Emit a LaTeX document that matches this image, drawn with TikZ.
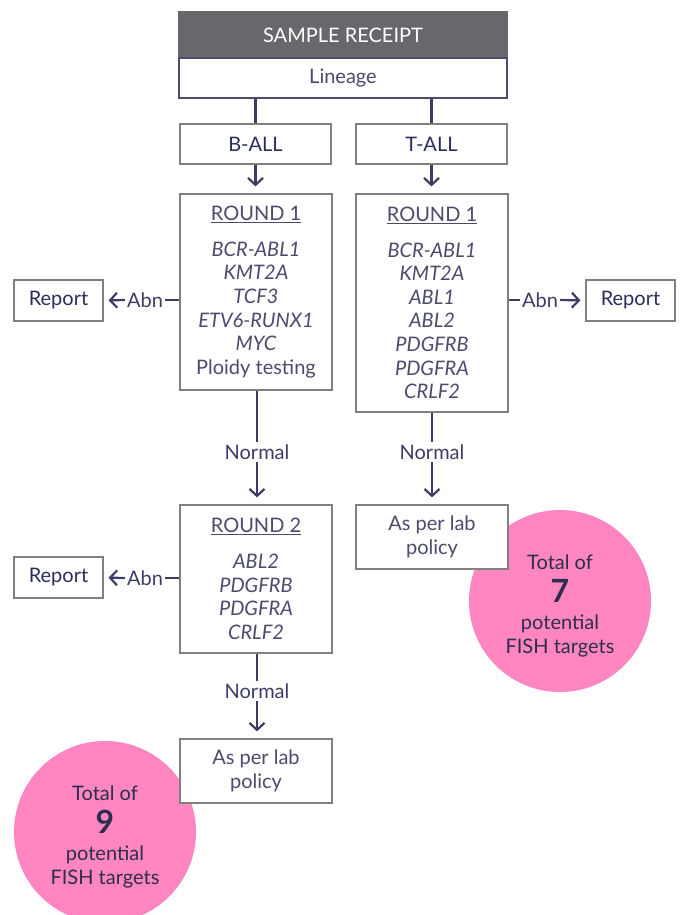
\documentclass[tikz,border=0pt]{standalone}
\usepackage{fontspec}
\setmainfont{Lato}
\usetikzlibrary{arrows.meta}
\definecolor{hdr}{HTML}{67686C}
\definecolor{navy}{HTML}{2B2D5C}
\definecolor{itemc}{HTML}{4B4B6B}
\definecolor{boxc}{HTML}{808080}
\definecolor{conn}{HTML}{3D3C68}
\definecolor{pinkc}{HTML}{FF86C1}
\definecolor{circtext}{HTML}{2D2D4D}
\tikzset{
  box/.style={draw=boxc, line width=1.2pt, fill=white, align=center, text=navy, inner sep=0pt,
    font=\fontsize{20}{23.5}\selectfont},
  lbl/.style={text=conn, inner sep=2pt, font=\fontsize{20}{23}\selectfont},
  conline/.style={draw=conn, line width=2.2pt},
  arr/.style={conline, -{Straight Barb[length=7pt,width=15pt,line width=2.2pt]}, shorten >=7pt},
  circ/.style={circle, fill=pinkc, minimum size=182pt, inner sep=0pt},
  circtxt/.style={align=center, text=circtext, inner sep=0pt, font=\fontsize{20}{24}\selectfont},
}
\newcommand{\itm}[1]{{\itshape #1}}
\begin{document}
\begin{tikzpicture}[x=1pt,y=-1pt]
\useasboundingbox (0,0) rectangle (681,915);
\clip (0,0) rectangle (681,915);
% circles (behind)
\node[circ] (c7) at (560,601) {};
\node[circtxt] (c7t) at ([yshift=-5pt]c7.center) {Total of\\[9pt]{\fontsize{32}{24}\selectfont\bfseries 7}\\[3pt]potential\\FISH targets};
\node[circ] (c9) at (105,832) {};
\node[circtxt] (c9t) at ([yshift=-5pt]c9.center) {Total of\\[9pt]{\fontsize{32}{24}\selectfont\bfseries 9}\\[3pt]potential\\FISH targets};
% header
\node[draw=hdr, fill=hdr, line width=1.2pt, minimum width=328pt, minimum height=46pt, inner sep=0pt,
  text=white, font=\fontsize{20}{23}\selectfont] (hdr) at (343,35) {SAMPLE RECEIPT};
\node[box, draw=itemc, minimum width=328pt, minimum height=40pt, text=itemc] (lin) at (343,78) {Lineage};
% level 2
\node[box, minimum width=151pt, minimum height=40pt] (ball) at (255.5,144) {B-ALL};
\node[box, minimum width=151pt, minimum height=40pt] (tall) at (431.5,144) {T-ALL};
% round 1
\node[box, minimum width=152pt, minimum height=196pt, text=itemc, font=\fontsize{20}{23.6}\selectfont] (r1b) at (256,292)
  {\underline{ROUND 1}\\[12pt]\itm{BCR-ABL1}\\\itm{KMT2A}\\\itm{TCF3}\\\itm{ETV6-RUNX1}\\\itm{MYC}\\Ploidy testing};
\node[box, minimum width=152pt, minimum height=218pt, text=itemc, font=\fontsize{20}{23.6}\selectfont] (r1t) at (432,303)
  {\underline{ROUND 1}\\[12pt]\itm{BCR-ABL1}\\\itm{KMT2A}\\\itm{ABL1}\\\itm{ABL2}\\\itm{PDGFRB}\\\itm{PDGFRA}\\\itm{CRLF2}};
% round 2
\node[box, minimum width=152pt, minimum height=148pt, text=itemc, font=\fontsize{20}{23.6}\selectfont] (r2b) at (256,579)
  {\underline{ROUND 2}\\[12pt]\itm{ABL2}\\\itm{PDGFRB}\\\itm{PDGFRA}\\\itm{CRLF2}};
% lab policy boxes
\node[box, minimum width=152pt, minimum height=64pt, text=itemc] (lpt) at (432,537) {As per lab\\policy};
\node[box, minimum width=152pt, minimum height=64pt, text=itemc] (lpb) at (256,771) {As per lab\\policy};
% report boxes
\node[box, minimum width=89pt, minimum height=41pt] (rep1) at (58.5,300.5) {Report};
\node[box, minimum width=89pt, minimum height=41pt] (rep2) at (630.5,300.5) {Report};
\node[box, minimum width=89pt, minimum height=41pt] (rep3) at (58.5,577.5) {Report};
% labels
\node[lbl] (abn1) at (145,300) {Abn};
\node[lbl] (abn2) at (540,300) {Abn};
\node[lbl] (abn3) at (145,578) {Abn};
\node[lbl] (nor1) at (257,452) {Normal};
\node[lbl] (nor2) at (432,452) {Normal};
\node[lbl] (nor3) at (257,691) {Normal};
% connectors
\draw[conline] (lin.south -| ball) -- (ball.north);
\draw[conline] (lin.south -| tall) -- (tall.north);
\draw[arr] (ball.south) -- (ball.south |- r1b.north);
\draw[arr] (tall.south) -- (tall.south |- r1t.north);
\draw[conline] (r1b.west |- abn1) -- (abn1.east);
\draw[arr, shorten >=5pt] (abn1.west) -- (rep1.east);
\draw[conline] (r1t.east |- abn2) -- (abn2.west);
\draw[arr, shorten >=5pt] (abn2.east) -- (rep2.west);
\draw[conline] (r2b.west |- abn3) -- (abn3.east);
\draw[arr, shorten >=5pt] (abn3.west) -- (rep3.east);
\draw[conline] (r1b.south -| nor1) -- (nor1.north);
\draw[arr] (nor1.south) -- (nor1.south |- r2b.north);
\draw[conline] (r1t.south -| nor2) -- (nor2.north);
\draw[arr] (nor2.south) -- (nor2.south |- lpt.north);
\draw[conline] (r2b.south -| nor3) -- (nor3.north);
\draw[arr] (nor3.south) -- (nor3.south |- lpb.north);
\end{tikzpicture}
\end{document}
